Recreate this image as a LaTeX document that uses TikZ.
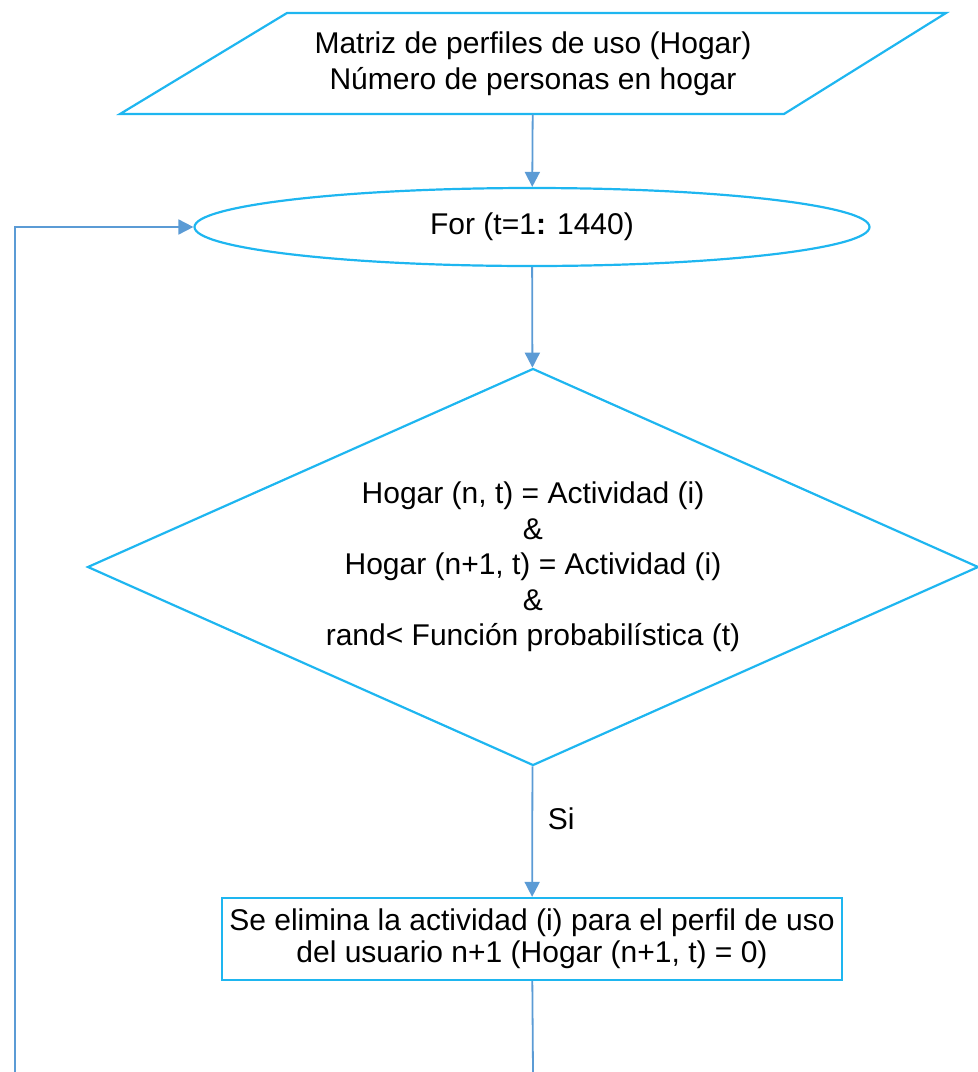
\documentclass[tikz,border=0pt]{standalone}
\usepackage{fontspec}
\setmainfont{Liberation Sans}
\usetikzlibrary{shapes.geometric,arrows.meta}
\definecolor{borde}{RGB}{30,182,240}
\definecolor{flecha}{RGB}{91,155,213}
\begin{document}
\begin{tikzpicture}[x=0.5pt,y=-0.5pt,font=\fontsize{15}{17.8}\selectfont,
  forma/.style={draw=borde, line width=1.1pt, align=center},
  flujo/.style={draw=flecha, line width=0.9pt, -{Triangle[length=7.5pt,width=7.5pt]}},
  linea/.style={draw=flecha, line width=0.9pt}]

\useasboundingbox (0,0) rectangle (978,1072);

% Entrada
\draw[forma] (287,13) -- (946,13) -- (784,114) -- (120,114) -- cycle;
\node[align=center, minimum height=50.5pt, inner sep=0pt]
  (entrada) at (533,63.5) {Matriz de perfiles de uso (Hogar)\\Número de personas en hogar};

% Ciclo
\node[forma, ellipse, minimum width=337.5pt, minimum height=39pt, inner sep=0pt]
  (ciclo) at (532,227) {For (t=1\textbf{:} 1440)};

% Condicion
\node[forma, diamond, aspect=2.24, minimum width=445.5pt, minimum height=198.5pt, inner sep=0pt]
  (cond) at (533,567) {Hogar (n, t) = Actividad (i)\\\&\\Hogar (n+1, t) = Actividad (i)\\\&\\rand< Función probabilística (t)};

% Eliminar
\node[forma, rectangle, minimum width=310pt, minimum height=41pt, inner sep=0pt,
  font=\fontsize{15}{16}\selectfont]
  (elim) at (532,939) {Se elimina la actividad (i) para el perfil de uso\\del usuario n+1 (Hogar (n+1, t) = 0)};

\coordinate (fin) at (533,1072);
\coordinate (vuelta) at (15,1072);

\draw[flujo] (entrada) -- (ciclo);
\draw[flujo] (ciclo) -- (cond);
\draw[flujo] (cond) -- node[pos=0.4, right=4pt] {Si} (elim);
\draw[linea] (elim) -- (fin);
\draw[flujo] (vuelta) |- (ciclo.west);

\end{tikzpicture}
\end{document}
